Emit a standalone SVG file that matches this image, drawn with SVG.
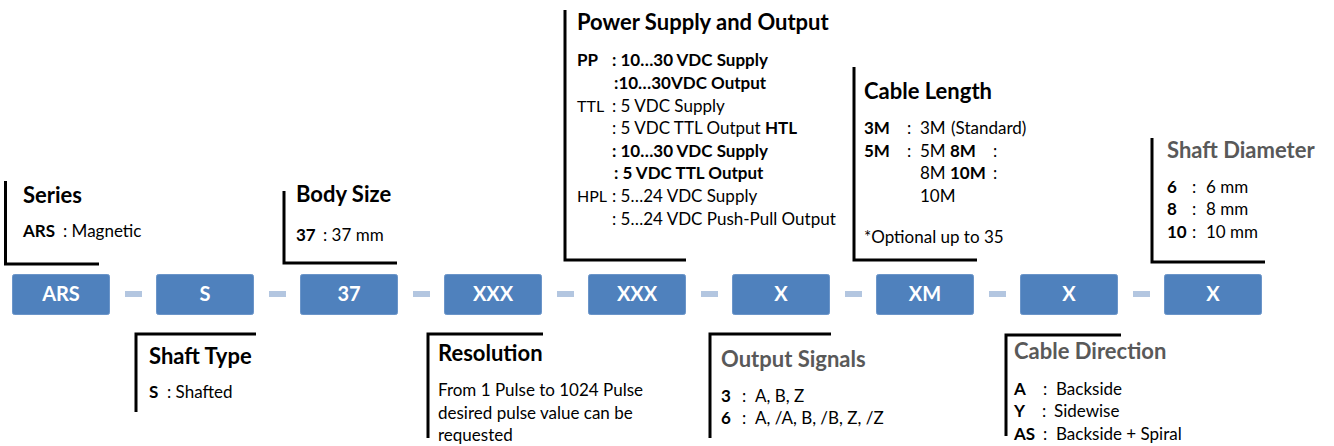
<svg xmlns="http://www.w3.org/2000/svg" width="1334" height="446" viewBox="0 0 1334 446">
<style>
text{font-family:Lato,"Open Sans","Liberation Sans",sans-serif;}
.box{fill:#4f81bd;stroke:#6b95c9;stroke-width:1;}
.bt{fill:#fff;font-size:20px;font-weight:bold;text-anchor:middle;}
.dash{fill:#b3c6e0;}
.br{fill:none;stroke:#000;stroke-width:3;}
.t{font-size:22px;font-weight:bold;fill:#000;}
.tg{font-size:22px;font-weight:bold;fill:#595959;}
.s{font-size:17px;fill:#000;}
.b{font-weight:bold;}
.lab{font-size:16px;}
</style>
<rect width="1334" height="446" fill="#fff"/>
<g id="connectors">
<rect class="dash" x="125" y="291" width="17" height="6"/>
<rect class="dash" x="269" y="291" width="17" height="6"/>
<rect class="dash" x="413" y="291" width="17" height="6"/>
<rect class="dash" x="557" y="291" width="17" height="6"/>
<rect class="dash" x="701" y="291" width="17" height="6"/>
<rect class="dash" x="845" y="291" width="17" height="6"/>
<rect class="dash" x="989" y="291" width="17" height="6"/>
<rect class="dash" x="1133" y="291" width="17" height="6"/>
</g>
<g id="box-ars"><rect class="box" x="12.5" y="274.5" width="97" height="40" rx="2"/><text class="bt" x="61" y="301">ARS</text></g>
<g id="box-s"><rect class="box" x="156.5" y="274.5" width="97" height="40" rx="2"/><text class="bt" x="205" y="301">S</text></g>
<g id="box-37"><rect class="box" x="300.5" y="274.5" width="97" height="40" rx="2"/><text class="bt" x="349" y="301">37</text></g>
<g id="box-xxx1"><rect class="box" x="444.5" y="274.5" width="97" height="40" rx="2"/><text class="bt" x="493" y="301">XXX</text></g>
<g id="box-xxx2"><rect class="box" x="588.5" y="274.5" width="97" height="40" rx="2"/><text class="bt" x="637" y="301">XXX</text></g>
<g id="box-x1"><rect class="box" x="732.5" y="274.5" width="97" height="40" rx="2"/><text class="bt" x="781" y="301">X</text></g>
<g id="box-xm"><rect class="box" x="876.5" y="274.5" width="97" height="40" rx="2"/><text class="bt" x="925" y="301">XM</text></g>
<g id="box-x2"><rect class="box" x="1020.5" y="274.5" width="97" height="40" rx="2"/><text class="bt" x="1069" y="301">X</text></g>
<g id="box-x3"><rect class="box" x="1164.5" y="274.5" width="97" height="40" rx="2"/><text class="bt" x="1213" y="301">X</text></g>

<g id="series">
<polyline class="br" points="5.5,181 5.5,264 99,264"/>
<text class="t" x="23" y="203">Series</text>
<text class="s b" x="23" y="237">ARS</text><text class="s" x="63" y="237">: Magnetic</text>
</g>
<g id="body-size">
<polyline class="br" points="284,191 284,263 397,263"/>
<text class="t" x="296" y="202">Body Size</text>
<text class="s b" x="296" y="241">37</text><text class="s" x="323" y="241">: 37 mm</text>
</g>
<g id="shaft-type">
<polyline class="br" points="136,412 136,334 256,334"/>
<text class="t" x="149" y="364">Shaft Type</text>
<text class="s b" x="149" y="398">S</text><text class="s" x="167" y="398">: Shafted</text>
</g>
<g id="resolution">
<polyline class="br" points="428,438 428,334 543,334"/>
<text class="t" x="438" y="361">Resolution</text>
<text class="s" x="438" y="396">From 1 Pulse to 1024 Pulse</text>
<text class="s" x="438" y="419">desired pulse value can be</text>
<text class="s" x="438" y="441">requested</text>
</g>
<g id="power-supply">
<polyline class="br" points="565,10 565,260 686,260"/>
<text class="t" x="577" y="30">Power Supply and Output</text>
<text class="s b" x="577" y="66">PP</text>
<text class="s b" x="612" y="66">: 10…30 VDC Supply</text>
<text class="s b" x="614" y="89">:10…30VDC Output</text>
<text class="s lab" x="577" y="112">TTL</text>
<text class="s" x="612" y="112">: 5 VDC Supply</text>
<text class="s" x="612" y="134">: 5 VDC TTL Output <tspan class="b">HTL</tspan></text>
<text class="s b" x="612" y="157">: 10…30 VDC Supply</text>
<text class="s b" x="614" y="179">: 5 VDC TTL Output</text>
<text class="s lab" x="577" y="202">HPL</text>
<text class="s" x="612" y="202">: 5…24 VDC Supply</text>
<text class="s" x="612" y="225">: 5…24 VDC Push-Pull Output</text>
</g>
<g id="cable-length">
<polyline class="br" points="854,67 854,260 977,260"/>
<text class="t" x="864" y="99">Cable Length</text>
<text class="s b" x="864" y="134">3M</text>
<text class="s" x="907" y="134">:</text>
<text class="s" x="920" y="134">3M</text><text class="s" x="951" y="134">(Standard)</text>
<text class="s b" x="864" y="157">5M</text>
<text class="s" x="907" y="157">:</text>
<text class="s" x="920" y="157">5M <tspan class="b">8M</tspan></text>
<text class="s" x="993" y="157">:</text>
<text class="s" x="920" y="179">8M <tspan class="b">10M</tspan></text>
<text class="s" x="993" y="179">:</text>
<text class="s" x="920" y="202">10M</text>
<text class="s" x="864" y="243">*Optional up to 35</text>
</g>
<g id="shaft-diameter">
<polyline class="br" points="1152,138 1152,262 1265,262"/>
<text class="tg" x="1167" y="158">Shaft Diameter</text>
<text class="s b" x="1167" y="193">6</text><text class="s" x="1192" y="193">:</text><text class="s" x="1206" y="193">6 mm</text>
<text class="s b" x="1167" y="215">8</text><text class="s" x="1192" y="215">:</text><text class="s" x="1206" y="215">8 mm</text>
<text class="s b" x="1167" y="238">10</text><text class="s" x="1192" y="238">:</text><text class="s" x="1206" y="238">10 mm</text>
</g>
<g id="output-signals">
<polyline class="br" points="710,438 710,334 831,334"/>
<text class="tg" x="721" y="367">Output Signals</text>
<text class="s b" x="721" y="402">3</text><text class="s" x="742" y="402">:</text><text class="s" x="755" y="402">A, B, Z</text>
<text class="s b" x="721" y="424">6</text><text class="s" x="742" y="424">:</text><text class="s" x="755" y="424">A, /A, B, /B, Z, /Z</text>
</g>
<g id="cable-direction">
<polyline class="br" points="1006,436 1006,335 1121,335"/>
<text class="tg" x="1014" y="359">Cable Direction</text>
<text class="s b" x="1014" y="395">A</text><text class="s" x="1043" y="395">:</text><text class="s" x="1056" y="395">Backside</text>
<text class="s b" x="1014" y="417">Y</text><text class="s" x="1042" y="417">:</text><text class="s" x="1054" y="417">Sidewise</text>
<text class="s b" x="1014" y="440">AS</text><text class="s" x="1043" y="440">:</text><text class="s" x="1056" y="440">Backside + Spiral</text>
</g>
</svg>
